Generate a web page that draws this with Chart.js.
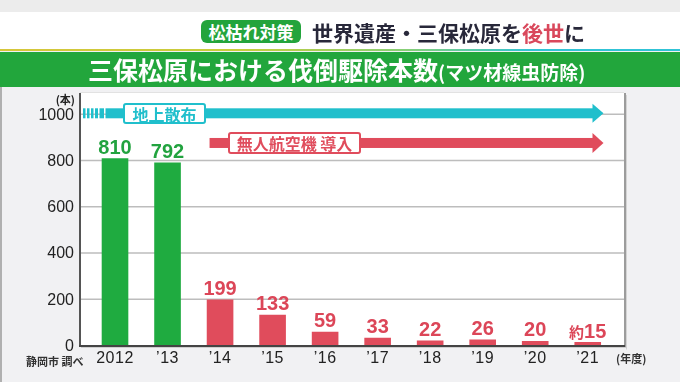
<!DOCTYPE html>
<html><head><meta charset="utf-8">
<script src="https://cdn.jsdelivr.net/npm/chart.js@4/dist/chart.umd.min.js"></script>
<style>
html,body{margin:0;padding:0;}
body{width:680px;height:382px;position:relative;overflow:hidden;background:#f1f1f3;font-family:"Noto Sans CJK JP",sans-serif;}
#topband{position:absolute;left:0;top:0;width:680px;height:12px;background:#ececec;z-index:2;}
#header{position:absolute;left:0;top:12px;width:680px;height:37px;background:#fff;z-index:2;}
#rule{position:absolute;left:0;top:49px;width:680px;height:2px;background:linear-gradient(90deg,#d6c63a 0%,#c6cd3a 35%,#86cf78 60%,#30c3d6 78%,#30c3d6 100%);z-index:2;}
#banner{position:absolute;left:0;top:52px;width:680px;height:35px;background:#22a63c;z-index:2;}
#badge{position:absolute;left:201px;top:20px;width:100px;height:23px;background:#23a43c;border-radius:6px;color:#fff;font-weight:700;font-size:17px;line-height:23px;text-align:center;z-index:3;}
#title{position:absolute;left:312px;top:17px;font-size:21px;font-weight:700;color:#28283a;line-height:30px;white-space:nowrap;z-index:3;}
#title .r{color:#d9485c;}
#btitle{position:absolute;left:88px;top:52px;height:35px;line-height:35px;color:#fff;font-weight:700;font-size:25px;white-space:nowrap;z-index:3;}
#btitle span{font-size:19px;}
#leftedge{position:absolute;left:0;top:87px;width:2px;height:295px;background:#b0b0b0;z-index:2;}
canvas{position:absolute;left:0;top:0;z-index:1;}
</style>
</head><body>
<div id="topband"></div>
<div id="header"></div>
<div id="rule"></div>
<div id="banner"></div>
<div id="leftedge"></div>
<div id="badge">松枯れ対策</div>
<div id="title">世界遺産・三保松原を<span class="r">後世</span>に</div>
<div id="btitle">三保松原における伐倒駆除本数<span>(マツ材線虫防除)</span></div>
<canvas id="c" width="680" height="382"></canvas>
<script>
// ---- data ----
const categories = ['2012', '’13', '’14', '’15', '’16', '’17', '’18', '’19', '’20', '’21'];
const felledTrees = [810, 792, 199, 133, 59, 33, 22, 26, 20, 15];
const valueLabels = ['810', '792', '199', '133', '59', '33', '22', '26', '20', '約15'];
const sprayMethod = ['ground', 'ground', 'drone', 'drone', 'drone', 'drone', 'drone', 'drone', 'drone', 'drone'];
const yTickValues = [0, 200, 400, 600, 800, 1000];
const yUnit = '(本)';
const xUnit = '(年度)';
const source = '静岡市 調べ';
const groundLabel = '地上散布';
const droneLabel = '無人航空機 導入';

// ---- styles ----
const GREEN = '#1fab40', GREEN_TXT = '#22a33f';
const RED = '#e04c5c', RED_TXT = '#dc4658';
const CYAN = '#20bfcc';
const barColors = sprayMethod.map(m => m === 'ground' ? GREEN : RED);
const labelColors = sprayMethod.map(m => m === 'ground' ? GREEN_TXT : RED_TXT);

const PANEL = {left: 80, right: 624, top: 93};

function arrow(ctx, x0, tip, y, color, thick, headLen, headHalf) {
  ctx.fillStyle = color;
  ctx.fillRect(x0, y - thick / 2, tip - headLen - x0 + 0.5, thick);
  ctx.beginPath();
  ctx.moveTo(tip - headLen, y - headHalf);
  ctx.lineTo(tip, y);
  ctx.lineTo(tip - headLen, y + headHalf);
  ctx.closePath();
  ctx.fill();
}
function labelBox(ctx, x, y, w, h, color, text) {
  ctx.fillStyle = '#fff';
  ctx.strokeStyle = color;
  ctx.lineWidth = 2;
  ctx.beginPath();
  if (ctx.roundRect) ctx.roundRect(x, y, w, h, 2); else ctx.rect(x, y, w, h);
  ctx.fill();
  ctx.stroke();
  ctx.fillStyle = color;
  ctx.font = 'bold 16px "Noto Sans CJK JP"';
  ctx.textAlign = 'center';
  ctx.textBaseline = 'middle';
  ctx.fillText(text, x + w / 2, y + h / 2 + 1);
}

const decor = {
  id: 'decor',
  beforeDatasetsDraw(chart) {
    const ctx = chart.ctx, y = chart.scales.y, x = chart.scales.x;
    const bottom = y.getPixelForValue(0);
    ctx.save();
    // panel
    ctx.fillStyle = '#fff';
    ctx.fillRect(PANEL.left, PANEL.top, PANEL.right - PANEL.left, bottom - PANEL.top);
    ctx.fillStyle = '#e2e2e2';
    ctx.fillRect(PANEL.left, PANEL.top - 1, PANEL.right - PANEL.left, 1);
    ctx.fillStyle = '#9c9c9c';
    ctx.fillRect(PANEL.right, PANEL.top, 2, bottom - PANEL.top + 2);
    ctx.fillStyle = '#d4d4d4';
    ctx.fillRect(PANEL.right + 2, PANEL.top + 2, 1, bottom - PANEL.top + 2);
    // grid
    ctx.strokeStyle = '#bdbdbd';
    ctx.lineWidth = 1.5;
    yTickValues.forEach(v => {
      if (v === 0) return;
      const py = y.getPixelForValue(v);
      ctx.beginPath(); ctx.moveTo(PANEL.left, py); ctx.lineTo(PANEL.right, py); ctx.stroke();
    });
    // y axis line
    ctx.fillStyle = '#555';
    ctx.fillRect(PANEL.left - 1, PANEL.top, 2, bottom - PANEL.top + 1);
    // y tick labels
    ctx.fillStyle = '#222';
    ctx.font = '16px "Liberation Sans", Arial, sans-serif';
    ctx.textAlign = 'right';
    ctx.textBaseline = 'middle';
    yTickValues.forEach(v => ctx.fillText(String(v), 74, y.getPixelForValue(v) + 1));
    ctx.font = 'bold 11px "Noto Sans CJK JP"';
    ctx.textAlign = 'right';
    ctx.fillText(yUnit, 75, 100);

    // annotation arrows
    const step = x.getPixelForValue(1) - x.getPixelForValue(0);
    const tip = x.getPixelForValue(categories.length - 1) + step * 0.3;
    // ground spraying (all years) at top line
    const yG = y.getPixelForValue(1000) - 1;
    ctx.fillStyle = CYAN;
    [[83, 85.5], [87, 89.5], [91, 93.5], [95, 98], [99.5, 104]].forEach(s => ctx.fillRect(s[0], yG - 5, s[1] - s[0], 10));
    arrow(ctx, 105.5, tip, yG, CYAN, 10, 11, 9.5);
    labelBox(ctx, 124, 104, 81, 19, CYAN, groundLabel);
    // drone introduction (from '14)
    const yD = y.getPixelForValue(876);
    const startD = x.getPixelForValue(1) + step * 0.8;
    arrow(ctx, startD, tip, yD, RED, 10, 11, 10);
    labelBox(ctx, 229, 133, 131, 20, RED, droneLabel);
    ctx.restore();
  },
  afterDatasetsDraw(chart) {
    const ctx = chart.ctx, y = chart.scales.y, x = chart.scales.x;
    const bottom = y.getPixelForValue(0);
    const meta = chart.getDatasetMeta(0);
    ctx.save();
    // x axis line
    ctx.fillStyle = '#444';
    ctx.fillRect(PANEL.left - 1, bottom - 0.5, PANEL.right - PANEL.left + 2, 2);
    ctx.fillStyle = '#cfcfcf';
    ctx.fillRect(PANEL.left + 1, bottom + 1.5, PANEL.right - PANEL.left + 2, 1);
    // category labels
    ctx.fillStyle = '#222';
    ctx.font = '16px "Liberation Sans", Arial, sans-serif';
    ctx.textAlign = 'center';
    ctx.textBaseline = 'middle';
    if ('letterSpacing' in ctx) ctx.letterSpacing = '0.5px';
    categories.forEach((c, i) => ctx.fillText(c, x.getPixelForValue(i), 359));
    if ('letterSpacing' in ctx) ctx.letterSpacing = '0px';
    // value labels
    ctx.textBaseline = 'alphabetic';
    meta.data.forEach((bar, i) => {
      const t = valueLabels[i];
      ctx.fillStyle = labelColors[i];
      const by = bar.y - 4.5;
      const m = t.match(/^(\D*)(.*)$/);
      if (m[1]) {
        ctx.font = 'bold 15px "Noto Sans CJK JP"';
        const w1 = ctx.measureText(m[1]).width;
        ctx.font = 'bold 20px "Liberation Sans", Arial, sans-serif';
        const w2 = ctx.measureText(m[2]).width;
        const x0 = bar.x - (w1 + w2) / 2;
        ctx.textAlign = 'left';
        ctx.font = 'bold 15px "Noto Sans CJK JP"';
        ctx.fillText(m[1], x0, by);
        ctx.font = 'bold 20px "Liberation Sans", Arial, sans-serif';
        ctx.fillText(m[2], x0 + w1, by);
      } else {
        ctx.textAlign = 'center';
        ctx.font = 'bold 20px "Liberation Sans", Arial, sans-serif';
        ctx.fillText(t, bar.x, by);
      }
    });
    // units / source
    ctx.fillStyle = '#333';
    ctx.font = 'bold 11px "Noto Sans CJK JP"';
    ctx.textBaseline = 'middle';
    ctx.textAlign = 'left';
    ctx.fillText(xUnit, 616, 359);
    ctx.fillText(source, 26, 362);
    ctx.restore();
  }
};

new Chart(document.getElementById('c'), {
  type: 'bar',
  data: {
    labels: categories,
    datasets: [{
      data: felledTrees,
      backgroundColor: barColors,
      borderWidth: 0,
      barPercentage: 0.507,
      categoryPercentage: 1
    }]
  },
  options: {
    responsive: false,
    animation: false,
    events: [],
    layout: {padding: {left: 88.75, right: 66, top: 114.3, bottom: 36.5}},
    scales: {
      x: {display: false},
      y: {display: false, min: 0, max: 1000}
    },
    plugins: {legend: {display: false}, tooltip: {enabled: false}}
  },
  plugins: [decor]
});
</script>
</body></html>
